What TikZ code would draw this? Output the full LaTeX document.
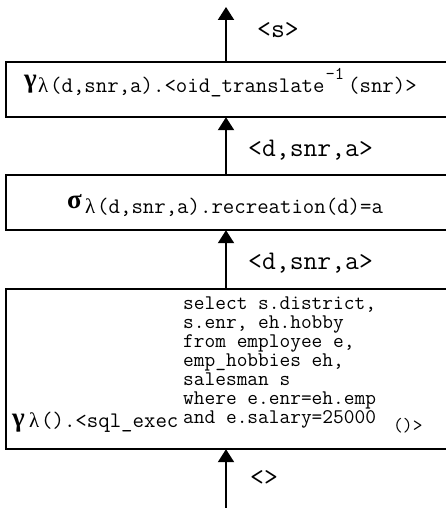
\documentclass[tikz,border=0pt]{standalone}
\usepackage{fontspec}
\newfontfamily\grk{Liberation Serif}
\usetikzlibrary{arrows.meta}
\newcommand{\lam}{\makebox[12pt][l]{\grk\fontsize{21}{24}\selectfont λ}}
\begin{document}
\begin{tikzpicture}[x=1pt,y=1pt,
  box/.style={draw=none, minimum width=440pt, inner sep=0pt},
  edge/.style={line width=2pt},
  arr/.style={line width=2pt, -{Triangle[width=16pt,length=13pt]}},
  txt/.style={anchor=base west, inner sep=0pt},
  lab/.style={anchor=base west, inner sep=0pt, font=\ttfamily\fontsize{26.9}{30}\selectfont},
  gk/.style={anchor=base west, inner sep=0pt, font=\grk\bfseries\fontsize{27}{30}\selectfont},
  sub/.style={anchor=base west, inner sep=0pt, font=\ttfamily\fontsize{22.2}{25}\selectfont}]
\useasboundingbox (0,0) rectangle (446,508);
% boxes
\node[box, minimum height=55pt] (b1) at (226,418.5) {};
\node[box, minimum height=55pt] (b2) at (226,305.5) {};
\node[box, minimum height=160pt] (b3) at (226,139) {};
\foreach \b in {b1,b2,b3}
  \draw[edge] (\b.north east) -- (\b.north west) -- (\b.south west) -- (\b.south east);
% coordinates for free ends
\coordinate (top) at (226,501);
\coordinate (bot) at (226,-2);
% connectors
\draw[arr] (b1.north) -- (top);
\draw[arr] (b2.north) -- (b1.south);
\draw[arr] (b3.north) -- (b2.south);
\draw[arr] (bot) -- (b3.south);
% labels
\node[lab] (l0) at (257,470) {<s>};
\node[lab] (l1) at (248,351) {<d,snr,a>};
\node[lab] (l2) at (248,238) {<d,snr,a>};
\node[lab] (l3) at (250,22) {<>};
% box 1 text
\node[gk] (g1) at (24,420) {γ};
\node[sub] (s1) at (38,415) {\lam(d,snr,a).<oid\_translate\kern1pt\raisebox{13pt}{\fontsize{18}{20}\selectfont -1}\kern4pt(snr)>};
% box 2 text
\node[gk] (g2) at (67,299) {σ};
\node[sub] (s2) at (85,294) {\lam(d,snr,a).recreation(d)=a};
% box 3 text
\node[gk] (g3) at (12,81) {γ};
\node[sub] (s3) at (29,80) {\lam().<sql\_exec};
\node[txt, font=\ttfamily\fontsize{20.8}{19}\selectfont] (q) at (183,84) {\baselineskip=19pt\vbox{\hbox{select s.district,}\hbox{s.enr, eh.hobby}\hbox{from employee e,}\hbox{emp\_hobbies eh,}\hbox{salesman s}\hbox{where e.enr=eh.emp}\hbox{and e.salary=25000}}};
\node[txt, font=\ttfamily\fontsize{19}{21}\selectfont] (e3) at (393,76) {()>};
\end{tikzpicture}
\end{document}
